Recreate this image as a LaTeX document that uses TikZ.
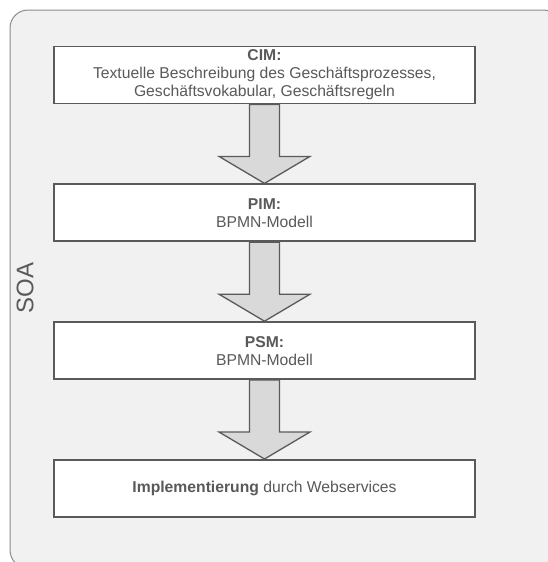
\documentclass[tikz,border=0pt]{standalone}
\usepackage{fontspec}
\setmainfont{Liberation Sans}
\usetikzlibrary{positioning,calc}
\definecolor{framegray}{HTML}{8C8C8C}
\definecolor{panelgray}{HTML}{F1F1F1}
\definecolor{boxline}{HTML}{5A5A5A}
\definecolor{textgray}{HTML}{595959}
\definecolor{arrowfill}{HTML}{D9D9D9}

% fat block arrow from the bottom of one stage to the top of the next
\newcommand{\stagearrow}[2]{%
  \draw[fatarrow] ($(#1.south)+(-15pt,0)$) |- ($(#2.north)+(-45.5pt,27pt)$) -- (#2.north)
    -- ($(#2.north)+(45.5pt,27pt)$) -| ($(#1.south)+(15pt,0)$) -- cycle;}

\begin{document}
\begin{tikzpicture}[
    node distance=79pt,
    stage/.style={draw=boxline, line width=1.8pt, fill=white, minimum width=421pt, minimum height=57pt,
      align=center, text=textgray, font=\fontsize{15.7pt}{18pt}\selectfont, inner sep=2pt},
    fatarrow/.style={draw=boxline, line width=1.3pt, fill=arrowfill, line join=miter},
  ]
  \useasboundingbox (0,0) rectangle (547pt,-562pt);
  \draw[framegray, fill=panelgray, line width=1pt, rounded corners=18pt] (10pt,-10pt) rectangle (561pt,-568pt);
  \node[rotate=90, text=textgray, font=\fontsize{24pt}{28pt}\selectfont] (soa) at (25pt,-288pt) {SOA};

  \node[stage] (cim) at (264.5pt,-75pt) {\textbf{CIM:}\\Textuelle Beschreibung des Geschäftsprozesses,\\Geschäftsvokabular, Geschäftsregeln};
  \node[stage, below=of cim] (pim) {\textbf{PIM:}\\BPMN-Modell};
  \node[stage, below=of pim] (psm) {\textbf{PSM:}\\BPMN-Modell};
  \node[stage, below=of psm] (impl) {\textbf{Implementierung} durch Webservices};

  \stagearrow{cim}{pim}
  \stagearrow{pim}{psm}
  \stagearrow{psm}{impl}
\end{tikzpicture}
\end{document}
